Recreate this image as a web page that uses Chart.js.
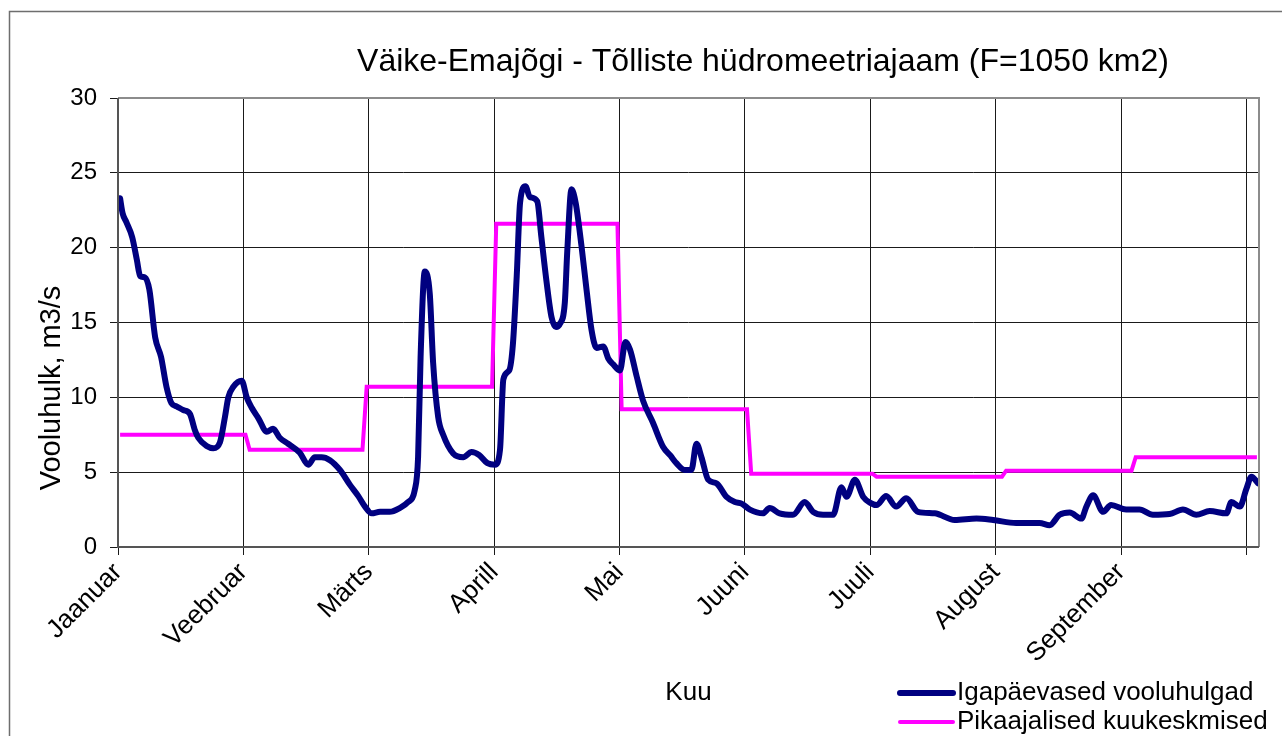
<!DOCTYPE html>
<html>
<head>
<meta charset="utf-8">
<script src="https://cdn.jsdelivr.net/npm/chart.js@4/dist/chart.umd.min.js"></script>
<style>
  html, body { margin: 0; padding: 0; background: #fff; }
  #wrap { width: 1282px; height: 736px; }
</style>
</head>
<body>
<div id="wrap"><canvas id="vooluhulk"></canvas></div>
<script>
/* Väike-Emajõgi, Tõlliste: päevased vooluhulgad ja pikaajalised kuukeskmised */

// kuude nimed telje märgistel (iga 30 päeva järel)
const kuud = ['Jaanuar', 'Veebruar', 'Märts', 'Aprill', 'Mai', 'Juuni', 'Juuli', 'August', 'September'];

// päeva asukoht teljel ja vooluhulk m3/s (loetud graafikult)
const paev = [
  0.5, 1.1, 2, 3.4, 4.5, 5.3, 6.5, 7.5, 8.9, 10.3, 11.6, 12.8, 14, 15.6, 17.2, 18.4, 19.2, 21.2, 22.8, 24.4,
  25.6, 26.4, 27.6, 29.6, 30.8, 32, 33.6, 35.6, 37.1, 38.7, 40.7, 43.5, 45.5, 47.1, 48.7, 50.7, 53.1, 55.5, 57.5, 59.1,
  60.7, 62.7, 65, 67.4, 69.4, 71, 71.8, 72.4, 73.4, 74.6, 75.4, 76.6, 77.8, 80.2, 82.6, 84.6, 86.4, 88.4, 90.2, 91.4,
  92.2, 93.6, 94.5, 95.4, 96.2, 97.5, 98.5, 100.3, 101.3, 102.5, 103.7, 104.8, 105.7, 106.9, 107.5, 108.5, 109.5, 110.9, 112.1, 113.3,
  114.5, 116.1, 117.3, 118.5, 120.1, 121.4, 122.5, 124.1, 125.6, 128, 130.4, 132.2, 133.6, 135.6, 137.2, 138.4, 139.6, 141.2, 143.2, 145.6,
  147.6, 149.2, 151.2, 154.3, 155.9, 158.3, 161.5, 164.3, 166.3, 168.7, 171.1, 173.1, 174.3, 176.3, 178.3, 180, 181.5, 183.8, 186.2, 188.6,
  191.4, 195.4, 200.2, 205.4, 209.4, 214.9, 220.5, 222.9, 225.3, 227.7, 230.5, 231.7, 233.3, 235.7, 237.6, 241.2, 244.4, 247.6, 251.6, 254.8,
  258, 261.2, 265.2, 266.4, 268.4, 270, 271.2, 272.8
];
const vooluhulk = [
  23.3, 22.3, 21.7, 20.7, 19.2, 18.1, 18.0, 17.2, 14.0, 12.7, 10.7, 9.6, 9.4, 9.15, 8.9, 7.8, 7.3, 6.75, 6.6, 7.0,
  8.7, 10.0, 10.7, 11.1, 10.0, 9.3, 8.6, 7.7, 7.9, 7.3, 6.9, 6.3, 5.5, 6.0, 6.0, 5.8, 5.15, 4.15, 3.4, 2.7,
  2.25, 2.35, 2.35, 2.6, 3.0, 3.8, 6.0, 12.7, 18.4, 16.9, 12.3, 8.7, 7.5, 6.25, 6.0, 6.35, 6.15, 5.6, 5.5, 6.5,
  11.2, 11.8, 13.6, 18.1, 23.0, 24.1, 23.4, 23.1, 20.7, 17.8, 15.4, 14.7, 14.9, 16.3, 19.8, 23.9, 23.0, 20.1, 17.2, 14.5,
  13.3, 13.4, 12.6, 12.2, 11.8, 13.7, 13.2, 11.4, 9.8, 8.3, 6.7, 6.1, 5.6, 5.15, 5.15, 6.9, 6.0, 4.5, 4.25, 3.35,
  3.0, 2.9, 2.5, 2.25, 2.6, 2.25, 2.15, 3.0, 2.35, 2.15, 2.15, 4.0, 3.35, 4.5, 3.35, 2.95, 2.8, 3.4, 2.7, 3.25,
  2.35, 2.25, 1.8, 1.9, 1.8, 1.6, 1.6, 1.45, 2.15, 2.3, 1.9, 2.7, 3.45, 2.35, 2.8, 2.5, 2.5, 2.15, 2.2, 2.5,
  2.15, 2.4, 2.25, 3.0, 2.7, 3.9, 4.7, 4.25
];

// pikaajalised kuukeskmised: kuu alguspäev ja keskmine
const kuuAlgus = [0, 31, 59, 90, 120, 151, 181, 212, 243];
const kuuLopp = 273;
const kuuKeskmine = [7.5, 6.5, 10.7, 21.6, 9.2, 4.9, 4.7, 5.1, 6.0];

const paevadeArv = 273;
const tickSamm = 30;

const joonPaev = paev.map((x, i) => ({ x: x, y: vooluhulk[i] }));

const joonKuu = [];
kuuAlgus.forEach((algus, i) => {
  const lopp = i + 1 < kuuAlgus.length ? kuuAlgus[i + 1] : kuuLopp;
  joonKuu.push({ x: algus + 0.5, y: kuuKeskmine[i] });
  joonKuu.push({ x: lopp - 0.5, y: kuuKeskmine[i] });
});

const FONT = "'Liberation Sans', Arial, sans-serif";

/* pealkiri, telje nimed, legend ja raamid joonistatakse ise */
const lisaTekstid = {
  id: 'lisaTekstid',
  beforeDraw(chart) {
    const ctx = chart.ctx;
    ctx.save();
    ctx.fillStyle = '#fff';
    ctx.fillRect(0, 0, chart.width, chart.height);
    ctx.strokeStyle = '#6e6e6e';
    ctx.lineWidth = 1.5;
    ctx.strokeRect(9.5, 11.5, 1400, 900);
    ctx.restore();
  },
  afterDraw(chart) {
    const ctx = chart.ctx;
    const a = chart.chartArea;
    ctx.save();
    // joonise ala raam
    ctx.strokeStyle = '#8c8c8c';
    ctx.lineWidth = 2;
    ctx.beginPath();
    ctx.moveTo(a.left, a.top);
    ctx.lineTo(a.right, a.top);
    ctx.lineTo(a.right, a.bottom);
    ctx.stroke();
    ctx.strokeStyle = '#555';
    ctx.beginPath();
    ctx.moveTo(a.left, a.top);
    ctx.lineTo(a.left, a.bottom);
    ctx.lineTo(a.right, a.bottom);
    ctx.stroke();

    ctx.fillStyle = '#000';
    ctx.textBaseline = 'middle';
    ctx.textAlign = 'center';
    ctx.font = '32px ' + FONT;
    ctx.fillText('Väike-Emajõgi - Tõlliste hüdromeetriajaam (F=1050 km2)', 763, 62);

    ctx.font = '26px ' + FONT;
    ctx.fillText('Kuu', (a.left + a.right) / 2, 693);

    ctx.save();
    ctx.translate(52, 388);
    ctx.rotate(-Math.PI / 2);
    ctx.font = '29px ' + FONT;
    ctx.fillText('Vooluhulk, m3/s', 0, 0);
    ctx.restore();

    // legend
    ctx.lineCap = 'round';
    ctx.strokeStyle = '#000080';
    ctx.lineWidth = 6;
    ctx.beginPath();
    ctx.moveTo(900, 693);
    ctx.lineTo(953, 693);
    ctx.stroke();
    ctx.strokeStyle = '#ff00ff';
    ctx.lineWidth = 4;
    ctx.beginPath();
    ctx.moveTo(900, 722);
    ctx.lineTo(953, 722);
    ctx.stroke();
    ctx.textAlign = 'left';
    ctx.fillText('Igapäevased vooluhulgad', 957, 693);
    ctx.fillText('Pikaajalised kuukeskmised', 957, 722);
    ctx.restore();
  }
};

const config_vooluhulk = {
  type: 'line',
  data: {
    datasets: [
      {
        label: 'Igapäevased vooluhulgad',
        data: joonPaev,
        borderColor: '#000080',
        borderWidth: 6,
        pointRadius: 0,
        cubicInterpolationMode: 'monotone',
        borderJoinStyle: 'round',
        borderCapStyle: 'round',
        order: 1
      },
      {
        label: 'Pikaajalised kuukeskmised',
        data: joonKuu,
        borderColor: '#ff00ff',
        borderWidth: 4,
        pointRadius: 0,
        tension: 0,
        order: 2
      }
    ]
  },
  options: {
    responsive: false,
    animation: false,
    layout: { padding: { left: 0, top: 98, right: 23, bottom: 0 } },
    plugins: { legend: { display: false }, title: { display: false }, tooltip: { enabled: false } },
    scales: {
      x: {
        type: 'linear',
        min: 0,
        max: paevadeArv,
        afterBuildTicks(scale) {
          const t = [];
          for (let v = 0; v < paevadeArv; v += tickSamm) t.push({ value: v });
          scale.ticks = t;
        },
        afterFit(scale) { scale.height = 736 - 547; },
        grid: { color: '#1a1a1a', lineWidth: 1, tickLength: 8, drawOnChartArea: true },
        border: { display: false },
        ticks: {
          autoSkip: false,
          minRotation: 45,
          maxRotation: 45,
          padding: 2,
          color: '#000',
          font: { family: FONT, size: 26 },
          callback: (v) => kuud[Math.round(v / tickSamm)] || ''
        }
      },
      y: {
        min: 0,
        max: 30,
        afterFit(scale) { scale.width = 118; },
        grid: { color: '#1a1a1a', lineWidth: 1, tickLength: 8 },
        border: { display: false },
        ticks: {
          stepSize: 5,
          padding: 13,
          color: '#000',
          font: { family: FONT, size: 24 }
        }
      }
    }
  },
  plugins: [lisaTekstid]
};

const canvas = document.getElementById('vooluhulk');
canvas.width = 1282;
canvas.height = 736;
const graafik_vooluhulk = new Chart(canvas, config_vooluhulk);
</script>
</body>
</html>
